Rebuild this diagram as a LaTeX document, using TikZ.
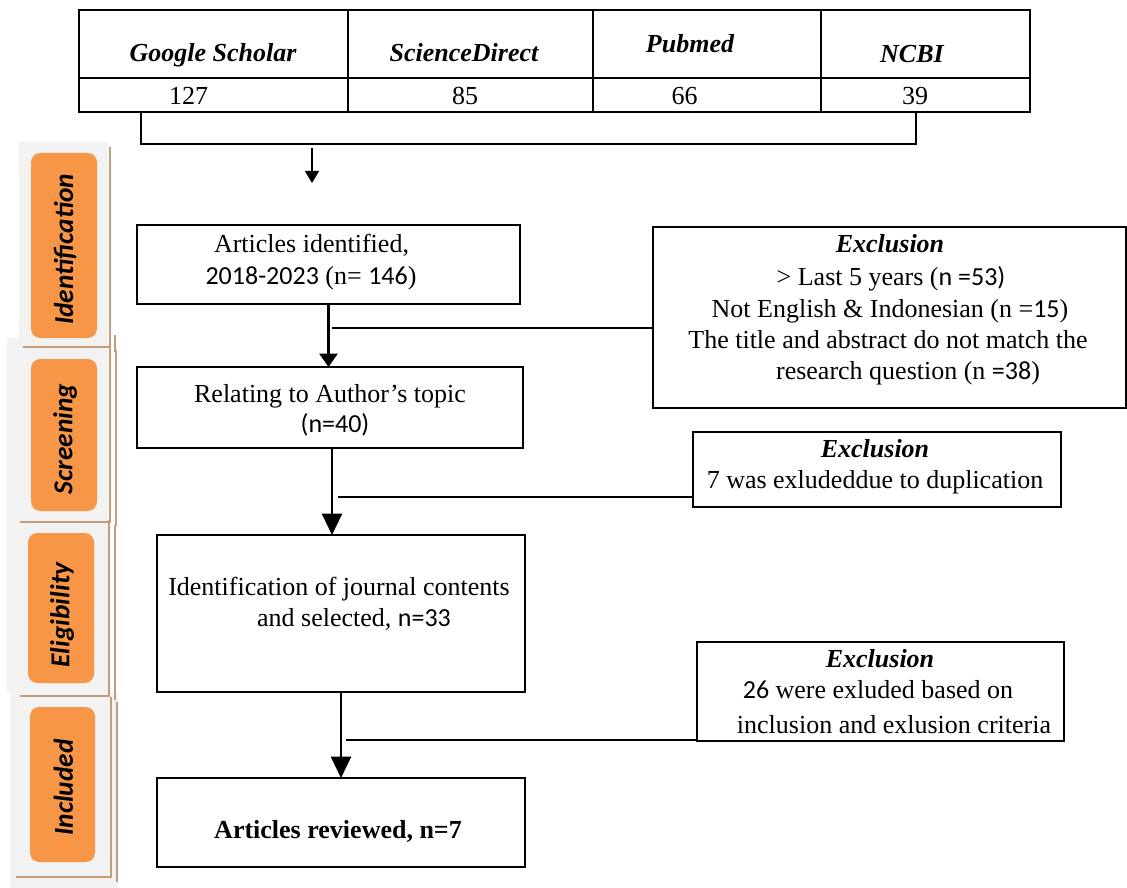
\documentclass[tikz,border=0pt]{standalone}
\usepackage{fontspec}
\setmainfont{Liberation Serif}
\newfontfamily\calfont{Carlito}
\usetikzlibrary{arrows.meta,calc}
\definecolor{stageorange}{HTML}{F79646}
\definecolor{stagegray}{HTML}{F2F2F2}
\definecolor{stagetan}{HTML}{C49E7B}
\newcommand\pbox[6]{\node[#6, minimum width={(#4-#2)*0.75pt}, minimum height={(#5-#3)*0.75pt}, inner sep=0pt, outer sep=0pt] (#1) at ({(#2+#4)/2},{(#3+#5)/2}) {};}
\begin{document}
\begin{tikzpicture}[x=0.75pt,y=-0.75pt,
  tx/.style={font=\fontsize{19.5}{23}\selectfont, inner sep=0pt, anchor=base},
  hd/.style={tx, font=\fontsize{19.5}{23}\selectfont\bfseries\itshape},
  stagetxt/.style={font=\fontsize{20.5}{24}\selectfont\calfont\bfseries\itshape, inner sep=0pt, rotate=90},
  cell/.style={draw, line width=1.8pt},
  flowbox/.style={draw, line width=1.3pt},
  exbox/.style={draw, line width=1.1pt},
  stagebox/.style={fill=stageorange, rounded corners=7pt},
  stagebg/.style={fill=stagegray},
  stageshadow/.style={draw=stagetan, line width=1.6pt},
  conn/.style={line width=1.3pt},
  bracket/.style={line width=1.8pt},
  arrowsmall/.style={line width=0.9pt, -{Triangle[length=9pt,width=10.5pt]}},
  arrowmid/.style={line width=1.8pt, -{Triangle[length=10pt,width=13.5pt]}},
  arrowbig/.style={line width=1.7pt, -{Triangle[length=16pt,width=15pt]}}
]
\useasboundingbox (0,0) rectangle (1127,888);
\fill[white] (0,0) rectangle (1127,888);

% ---------- stage panels ----------
\fill[stagebg] (10,692) rectangle (118,888);
\fill[stagebg] (7,515) rectangle (108,692);
\fill[stagebg] (7,338) rectangle (108,517);
\fill[stagebg] (19,142) rectangle (108,343);
\draw[stageshadow] (110,147) -- (110,347) -- (23,347);
\draw[stageshadow] (115,335) -- (115,352);
\draw[stageshadow] (110,343) -- (110,522) -- (20,522);
\draw[stageshadow] (116,350) -- (116,526);
\draw[stageshadow] (109,520) -- (109,696) -- (20,696);
\draw[stageshadow] (115,525) -- (115,700);
\draw[stageshadow] (111,697) -- (111,877) -- (16,877);
\draw[stageshadow] (117,702) -- (117,882);
\pbox{st1}{31}{153}{97}{338}{stagebox}
\pbox{st2}{31}{359}{97}{511}{stagebox}
\pbox{st3}{28}{533}{94}{683}{stagebox}
\pbox{st4}{30}{707}{95}{862}{stagebox}
\node[stagetxt] (st1t) at ($(st1.center)+(1,4)$) {Identification};
\node[stagetxt] (st2t) at ($(st2.center)+(1,4)$) {Screening};
\node[stagetxt] (st3t) at ($(st3.center)+(1,7)$) {Eligibility};
\node[stagetxt] (st4t) at ($(st4.center)+(1,3)$) {Included};

% ---------- top table ----------
\pbox{gsH}{79}{10}{348}{78}{cell}
\pbox{sdH}{348}{10}{593}{78}{cell}
\pbox{pmH}{593}{10}{821}{78}{cell}
\pbox{ncH}{821}{10}{1030}{78}{cell}
\pbox{gsN}{79}{78}{348}{112}{cell}
\pbox{sdN}{348}{78}{593}{112}{cell}
\pbox{pmN}{593}{78}{821}{112}{cell}
\pbox{ncN}{821}{78}{1030}{112}{cell}
\node[hd] (th1) at (213,62) {Google Scholar};
\node[hd] (th2) at (464,62) {ScienceDirect};
\node[hd] (th3) at (690,53) {Pubmed};
\node[hd] (th4) at (912,63) {NCBI};
\node[tx] (tn1) at (188.5,105) {127};
\node[tx] (tn2) at (465,105) {85};
\node[tx] (tn3) at (684.5,105) {66};
\node[tx] (tn4) at (915,105) {39};

\coordinate (bl) at (141,144);
\coordinate (br) at (916,144);
\draw[bracket] (gsN.south -| bl) -- (bl) -- (br) -- (ncN.south -| br);
\coordinate (ta1) at (312,148);
\coordinate (ta2) at (312,183);
\draw[arrowsmall] (ta1) -- (ta2);

% ---------- flow boxes ----------
\pbox{box1}{137}{225}{520}{304}{flowbox}
\pbox{box2}{137}{367}{523}{448}{flowbox}
\pbox{box3}{157}{535}{525}{692}{flowbox}
\pbox{box4}{157}{778}{525}{867}{flowbox}

\node[tx] (b1l1) at (311.5,252) {Articles identified,};
\node[tx] (b1l2) at (311,284) {{\calfont 2018-2023} (n= {\calfont 146})};
\node[tx] (b2l1) at (330,402) {Relating to Author’s topic};
\node[tx] (b2l2) at (335,432) {{\calfont (n=40)}};
\node[tx] (b3l1) at (339,595) {Identification of journal contents};
\node[tx] (b3l2) at (354,626) {and selected, {\calfont n=33}};
\node[tx, font=\fontsize{19.5}{23}\selectfont\bfseries] (b4l1) at (338,838) {Articles reviewed, n=7};

% ---------- exclusion boxes ----------
\pbox{ex1}{653}{227}{1126}{408}{exbox}
\pbox{ex2}{693}{432}{1061}{507}{exbox}
\pbox{ex3}{697}{642}{1064}{741}{exbox}

\node[hd] (e1l1) at (890,252) {Exclusion};
\node[tx] (e1l2) at (891,285) {> Last 5 years ({\calfont n =53)}};
\node[tx] (e1l3) at (890,317) {Not English \& Indonesian (n ={\calfont 15})};
\node[tx] (e1l4) at (888,348) {The title and abstract do not match the};
\node[tx] (e1l5) at (908,379) {research question (n {\calfont =38})};
\node[hd] (e2l1) at (875,457) {Exclusion};
\node[tx] (e2l2) at (875,488) {7 was exludeddue to duplication};
\node[hd] (e3l1) at (880,667) {Exclusion};
\node[tx] (e3l2) at (878,698) {{\calfont 26} were exluded based on};
\node[tx] (e3l3) at (894,733) {inclusion and exlusion criteria};

% ---------- connectors ----------
\draw[arrowmid] (box1.south) -- (box1.south |- box2.north);
\coordinate (a2top) at ($(box2.south)+(2,0)$);
\draw[arrowbig] (a2top) -- (a2top |- box3.north);
\draw[arrowbig] (box3.south) -- (box3.south |- box4.north);

\coordinate (j1) at (332,328);
\coordinate (j2) at (338,497);
\coordinate (j3) at (346,740);
\draw[conn] (j1) -- (j1 -| ex1.west);
\draw[conn] (j2) -- (j2 -| ex2.west);
\draw[conn] (j3) -- (j3 -| ex3.west);
\end{tikzpicture}
\end{document}
